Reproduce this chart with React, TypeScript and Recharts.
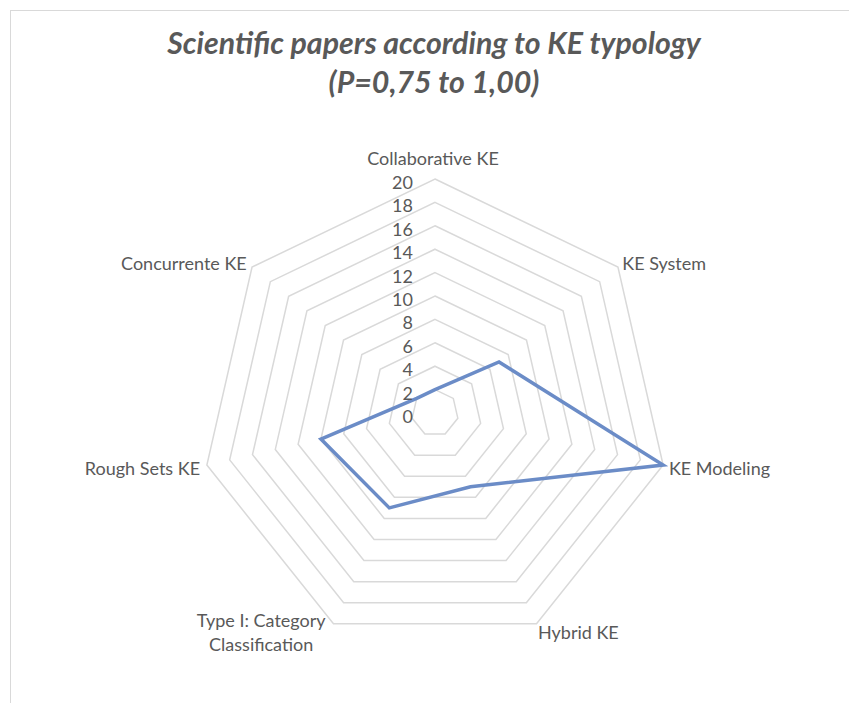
import { PolarAngleAxis, PolarGrid, PolarRadiusAxis, Radar, RadarChart } from "recharts";

const CATEGORIES = [
  "Collaborative KE",
  "KE System",
  "KE Modeling",
  "Hybrid KE",
  "Type I: Category Classification",
  "Rough Sets KE",
  "Concurrente KE",
];
const PAPERS = [2, 7, 20, 7, 9, 10, 2];
const RADIUS_MAX = 20;
const RADIUS_TICK_COUNT = 11;
const TITLE = ["Scientific papers according to KE typology", "(P=0,75 to 1,00)"];

const W = 849;
const H = 703;
const CX = 435;
const CY = 413;
const R = 234;
const FONT = "Lato, 'Noto Sans', sans-serif";
const INK = "#595959";
const GRID = "#d9d9d9";
const LINE = "#6b8cc7";
const LABEL_SIZE = 18;

const data = CATEGORIES.map((name, i) => ({ name, value: PAPERS[i] }));

// long labels get wrapped onto two lines, like the office chart did
function wrap(label: string): string[] {
  if (label.length <= 20) return [label];
  const cut = label.lastIndexOf(" ");
  return [label.slice(0, cut), label.slice(cut + 1)];
}

function AngleTick(props: any) {
  const { x, y, payload } = props;
  const dx = x - CX;
  const dy = y - CY;
  const len = Math.hypot(dx, dy) || 1;
  const cos = dx / len;
  const lines = wrap(String(payload.value));
  const lh = 24;
  if (dy / len < -0.95) {
    return (
      <text x={x - 2} y={y - 6} textAnchor="middle" fontSize={LABEL_SIZE} fill={INK} fontFamily={FONT}>
        {payload.value}
      </text>
    );
  }
  let anchor: "start" | "end" | "middle" = cos > 0.05 ? "start" : cos < -0.05 ? "end" : "middle";
  let tx = anchor === "start" ? x - 2 : x + 1;
  if (lines.length > 1) {
    const longest = Math.max(...lines.map((l) => l.length));
    tx = anchor === "end" ? x - longest * 4.3 : x + longest * 4.3;
    anchor = "middle";
  }
  const top = y + 1 - ((lines.length - 1) * lh) / 2;
  return (
    <text textAnchor={anchor} fontSize={LABEL_SIZE} fill={INK} fontFamily={FONT} dominantBaseline="central">
      {lines.map((l, i) => (
        <tspan key={i} x={tx} y={top + i * lh}>
          {l}
        </tspan>
      ))}
    </text>
  );
}

function RadiusTick(props: any) {
  const { x, y, payload } = props;
  return (
    <text x={x - 22} y={y + 3} textAnchor="end" dominantBaseline="central" fontSize={LABEL_SIZE} fill={INK} fontFamily={FONT}>
      {payload.value}
    </text>
  );
}

export default function App() {
  return (
    <div style={{ position: "absolute", left: 0, top: 0, width: W, height: H, overflow: "hidden", background: "#fff" }}>
      <div
        style={{
          position: "absolute",
          left: 10,
          top: 10,
          width: W + 40,
          height: H + 40,
          border: `1px solid ${GRID}`,
        }}
      />
      <div style={{ position: "absolute", left: 0, top: 0 }}>
        <RadarChart width={W} height={H} data={data} cx={CX} cy={CY} outerRadius={R} margin={{ top: 0, right: 0, bottom: 0, left: 0 }}>
          <PolarGrid gridType="polygon" radialLines={false} stroke={GRID} strokeWidth={1.5} />
          <PolarAngleAxis dataKey="name" tick={AngleTick} tickLine={false} axisLine={false} />
          <PolarRadiusAxis
            angle={90}
            type="number"
            domain={[0, RADIUS_MAX]}
            tickCount={RADIUS_TICK_COUNT}
            axisLine={false}
            tickLine={false}
            tick={RadiusTick}
          />
          <Radar
            dataKey="value"
            stroke={LINE}
            strokeWidth={3.5}
            fill="none"
            fillOpacity={0}
            dot={false}
            isAnimationActive={false}
          />
        </RadarChart>
      </div>
      <svg width={W} height={H} style={{ position: "absolute", left: 0, top: 0, pointerEvents: "none" }}>
        {TITLE.map((t, i) => (
          <text
            key={i}
            x={434}
            y={54 + i * 39}
            textAnchor="middle"
            fontSize={30.3}
            fontWeight="bold"
            fontStyle="italic"
            fill={INK}
            fontFamily={FONT}
          >
            {t}
          </text>
        ))}
      </svg>
    </div>
  );
}
